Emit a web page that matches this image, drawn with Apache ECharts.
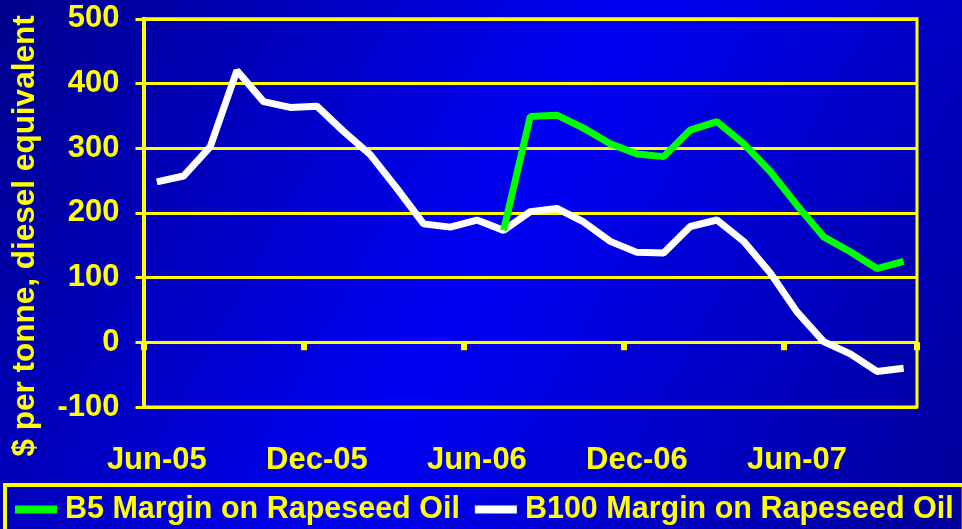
<!DOCTYPE html>
<html>
<head>
<meta charset="utf-8">
<script src="https://cdn.jsdelivr.net/npm/echarts@6/dist/echarts.min.js"></script>
<style>
  html, body { margin: 0; padding: 0; background: #0000c0; }
  #chart { width: 962px; height: 529px; }
</style>
</head>
<body>
<div id="chart"></div>
<script>
// Monthly margins, Jun-05 to Oct-07, in $ per tonne diesel equivalent
const months = [
  'Jun-05','Jul-05','Aug-05','Sep-05','Oct-05','Nov-05','Dec-05',
  'Jan-06','Feb-06','Mar-06','Apr-06','May-06','Jun-06','Jul-06',
  'Aug-06','Sep-06','Oct-06','Nov-06','Dec-06','Jan-07','Feb-07',
  'Mar-07','Apr-07','May-07','Jun-07','Jul-07','Aug-07','Sep-07','Oct-07'
];
const b5Margin = [
  null, null, null, null, null, null, null,
  null, null, null, null, null, null, 173,
  349, 351, 331, 307, 291, 287, 328,
  341, 307, 264, 212, 163, 140, 114, 125
];
const b100Margin = [
  248, 257, 302, 420, 372, 363, 365,
  326, 290, 238, 183, 178, 189, 173,
  202, 207, 186, 156, 139, 138, 179,
  189, 156, 107, 47, 1, -18, -45, -40
];
const seriesNames = ['B5 Margin on Rapeseed Oil', 'B100 Margin on Rapeseed Oil'];
const yTitle = '$ per tonne, diesel equivalent';

const YELLOW = '#ffff00';
const FONT = '"Liberation Sans", Arial, sans-serif';

const chart = echarts.init(document.getElementById('chart'), null, { renderer: 'canvas' });

chart.setOption({
  animation: false,
  backgroundColor: new echarts.graphic.LinearGradient(0, 0, 1, 1, [
    { offset: 0, color: '#00008c' },
    { offset: 0.5, color: '#0000f4' },
    { offset: 1, color: '#000098' }
  ]),
  grid: {
    left: 143.5, right: 45, top: 18.8, bottom: 122,
    show: true,
    borderColor: YELLOW,
    borderWidth: 3,
    backgroundColor: 'transparent'
  },
  legend: {
    data: seriesNames,
    left: 5,
    top: 485,
    width: 1200,
    orient: 'horizontal',
    borderColor: YELLOW,
    borderWidth: 4,
    padding: [9, 10, 30, 10],
    itemGap: 15,
    itemWidth: 42,
    itemHeight: 8,
    icon: 'rect',
    textStyle: {
      color: YELLOW,
      fontFamily: FONT,
      fontWeight: 'bold',
      fontSize: 30.5,
      padding: [0, 0, 0, 3]
    }
  },
  xAxis: {
    type: 'category',
    data: months,
    boundaryGap: true,
    axisLine: { onZero: true, lineStyle: { color: YELLOW, width: 3 } },
    axisTick: {
      show: true,
      interval: 5,
      length: 8,
      lineStyle: { color: YELLOW, width: 6 }
    },
    axisLabel: {
      interval: 5,
      margin: 38,
      color: YELLOW,
      fontFamily: FONT,
      fontWeight: 'bold',
      fontSize: 31
    },
    splitLine: { show: false }
  },
  yAxis: {
    type: 'value',
    min: -100,
    max: 500,
    interval: 100,
    name: yTitle,
    nameLocation: 'middle',
    nameGap: 102,
    nameTextStyle: {
      color: YELLOW,
      fontFamily: FONT,
      fontWeight: 'bold',
      fontSize: 31.5,
      padding: [0, 46, 0, 0]
    },
    axisLine: { show: true, lineStyle: { color: YELLOW, width: 4 } },
    axisTick: { show: true, length: 8, lineStyle: { color: YELLOW, width: 3 } },
    axisLabel: {
      margin: 24,
      color: YELLOW,
      fontFamily: FONT,
      fontWeight: 'bold',
      fontSize: 31
    },
    splitLine: { show: true, lineStyle: { color: YELLOW, width: 3 } }
  },
  series: [
    {
      name: seriesNames[0],
      type: 'line',
      data: b5Margin,
      showSymbol: false,
      symbol: 'none',
      connectNulls: false,
      itemStyle: { color: '#00ff00' },
      lineStyle: { color: '#00ff00', width: 7 },
      z: 3
    },
    {
      name: seriesNames[1],
      type: 'line',
      data: b100Margin,
      showSymbol: false,
      symbol: 'none',
      itemStyle: { color: '#ffffff' },
      lineStyle: { color: '#ffffff', width: 7 },
      z: 2
    }
  ]
});
</script>
</body>
</html>
